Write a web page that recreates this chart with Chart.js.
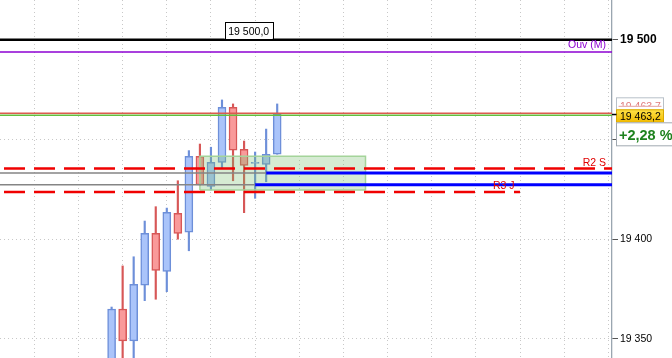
<!DOCTYPE html>
<html>
<head>
<meta charset="utf-8">
<script src="https://cdn.jsdelivr.net/npm/chart.js@4/dist/chart.umd.min.js"></script>
<style>
  html, body { margin: 0; padding: 0; background: #fff; }
  canvas { display: block; }
</style>
</head>
<body>
<canvas id="chart" width="672" height="358"></canvas>
<script>
// candles, index 0 = first visible candle
const opens  = [19330.0, 19365.0, 19349.0, 19376.9, 19402.9, 19383.9, 19413.0, 19403.5, 19441.6, 19426.5, 19438.5, 19466.1, 19445.1, 19438.0, 19437.5, 19442.6];
const highs  = [19366.0, 19386.6, 19391.2, 19409.1, 19416.3, 19415.6, 19429.3, 19444.4, 19447.7, 19446.1, 19469.8, 19467.8, 19449.2, 19443.7, 19455.2, 19467.8];
const lows   = [19325.0, 19330.0, 19335.0, 19369.2, 19369.9, 19373.7, 19400.0, 19394.2, 19427.0, 19424.7, 19435.8, 19429.3, 19413.3, 19420.5, 19428.8, 19442.6];
const closes = [19365.0, 19349.0, 19377.4, 19402.9, 19384.4, 19413.5, 19402.9, 19441.6, 19427.2, 19438.5, 19466.1, 19444.6, 19437.0, 19438.5, 19442.6, 19462.6];

// horizontal levels
const levelValues = [19500.0, 19493.8, 19463.1, 19462.1, 19435.4, 19423.7];
const levelLabels = ['19 500,0', 'Ouv (M)', '', '', 'R2 S', 'R3 J'];
const levelEnds   = [null, null, null, null, null, 37];   // candle index where a line stops
const pivotValues = [19433.2, 19427.3];                    // grey, then blue
const pivotSwitch = [14, 13];
const zoneValues  = [19424.6, 19441.6];
const zoneSpan    = [8, 23];

// axes
const yTicks = [19350, 19400, 19450, 19500];
const xGrid  = [-7, -3, 1, 5, 9, 13, 17, 21, 25, 29, 33, 37, 41, 45];
const tagTexts = ['19 463,7', '19 463,2', '+2,28 %'];

const X_MIN = -10.11, X_MAX = 45.33;
const Y_MIN = 19340.45, Y_MAX = 19519.9;

// styles (kept apart from the data)
const levelStyle = [
  {color: '#000000', width: 2.5, dash: []},
  {color: '#8c00d2', width: 1.5, dash: []},
  {color: '#dc5a50', width: 1.5, dash: []},
  {color: '#64be3c', width: 1.5, dash: []},
  {color: '#f00000', width: 2.5, dash: [21, 9]},
  {color: '#f00000', width: 2.5, dash: [21, 9]},
];
const UP_FILL = '#aac4fa', UP_LINE = '#6d8fd9';
const DN_FILL = '#f99a9a', DN_LINE = '#d75757';

const idx = closes.map((_, i) => i);
const isUp = idx.map(i => closes[i] >= opens[i]);

const datasets = [];

// level lines
levelValues.forEach((v, i) => {
  const end = levelEnds[i] == null ? X_MAX : levelEnds[i];
  datasets.push({
    type: 'line',
    data: [{x: X_MIN, y: v}, {x: end, y: v}],
    borderColor: levelStyle[i].color,
    borderWidth: levelStyle[i].width,
    borderDash: levelStyle[i].dash,
    borderDashOffset: 26,
    pointRadius: 0,
    fill: false,
    order: i === 0 ? 0 : 2
  });
});

// pivot lines: grey up to the switch candle, blue after it
pivotValues.forEach((v, i) => {
  datasets.push({
    type: 'line',
    data: [{x: X_MIN, y: v}, {x: pivotSwitch[i], y: v}],
    borderColor: '#858585', borderWidth: 1.5,
    pointRadius: 0, fill: false, order: 3
  });
  datasets.push({
    type: 'line',
    data: [{x: pivotSwitch[i], y: v}, {x: X_MAX, y: v}],
    borderColor: '#0000ff', borderWidth: 3,
    pointRadius: 0, fill: false, order: 3
  });
});

// green zone
datasets.push({
  type: 'line',
  data: [
    {x: zoneSpan[0], y: zoneValues[0]}, {x: zoneSpan[0], y: zoneValues[1]},
    {x: zoneSpan[1], y: zoneValues[1]}, {x: zoneSpan[1], y: zoneValues[0]},
    {x: zoneSpan[0], y: zoneValues[0]}
  ],
  borderColor: '#a4d49a', borderWidth: 1.5,
  backgroundColor: 'rgba(120,190,110,0.3)',
  fill: 'shape', pointRadius: 0, order: 5
});

// candle bodies
datasets.push({
  type: 'bar',
  data: idx.map(i => ({x: i, y: [opens[i], closes[i]]})),
  backgroundColor: idx.map(i => isUp[i] ? UP_FILL : DN_FILL),
  borderColor: idx.map(i => isUp[i] ? UP_LINE : DN_LINE),
  borderWidth: 1.5,
  borderSkipped: false,
  barThickness: 8,
  grouped: false,
  order: 8
});

// wicks
datasets.push({
  type: 'bar',
  data: idx.map(i => ({x: i, y: [lows[i], highs[i]]})),
  backgroundColor: idx.map(i => isUp[i] ? UP_LINE : DN_LINE),
  borderWidth: 0,
  barThickness: 1.5,
  grouped: false,
  order: 9
});

function fmt(v) {
  return String(Math.round(v)).replace(/\B(?=(\d{3})+(?!\d))/g, ' ');
}

const overlay = {
  id: 'overlay',
  afterDraw(chart) {
    const {ctx, chartArea: area, scales: {x, y}} = chart;
    ctx.save();
    ctx.font = '10.5px "Liberation Sans"';
    ctx.textBaseline = 'alphabetic';

    // "19 500,0" box on the black line
    const y0 = Math.round(y.getPixelForValue(levelValues[0]));
    const cx = x.getPixelForValue(12.42);
    ctx.fillStyle = '#fff';
    ctx.fillRect(cx - 24, y0 - 18, 48, 17);
    ctx.strokeStyle = '#000';
    ctx.lineWidth = 1;
    ctx.strokeRect(Math.round(cx - 24) + 0.5, y0 - 17.5, 48, 17);
    ctx.fillStyle = '#000';
    ctx.textAlign = 'center';
    ctx.fillText(levelLabels[0], cx, y0 - 5.5);

    // level names
    ctx.textAlign = 'right';
    ctx.fillStyle = levelStyle[1].color;
    ctx.fillText(levelLabels[1], area.right - 6, y.getPixelForValue(levelValues[1]) - 4);
    ctx.fillStyle = '#e00000';
    ctx.fillText(levelLabels[4], area.right - 6, y.getPixelForValue(levelValues[4]) - 3);
    ctx.textAlign = 'left';
    ctx.fillText(levelLabels[5], x.getPixelForValue(34.55), y.getPixelForValue(levelValues[5]) - 3);

    // price tags in the axis
    const yl = y.getPixelForValue(levelValues[3]);
    const left = area.right + 4.5;
    // half-hidden tag of the red line
    ctx.fillStyle = '#fff';
    ctx.fillRect(left, yl - 18, 47, 16);
    ctx.save();
    ctx.beginPath();
    ctx.rect(left, yl - 18, 47, 8.5);
    ctx.clip();
    ctx.fillStyle = '#e07a7a';
    ctx.fillText(tagTexts[0], left + 3.5, yl - 5);
    ctx.restore();
    ctx.strokeStyle = '#b8c0c8';
    ctx.strokeRect(left, yl - 17.5, 47, 16);
    ctx.strokeStyle = '#e3a0a0';
    ctx.beginPath();
    ctx.moveTo(left + 2, yl - 9);
    ctx.lineTo(left + 45, yl - 9);
    ctx.stroke();

    const g = ctx.createLinearGradient(0, yl - 6, 0, yl + 7);
    g.addColorStop(0, '#ffe34a');
    g.addColorStop(1, '#f2bb00');
    ctx.fillStyle = g;
    ctx.fillRect(left, yl - 6, 47, 13);
    ctx.strokeStyle = '#d9a800';
    ctx.strokeRect(left, yl - 5.5, 47, 12.5);
    ctx.fillStyle = '#000';
    ctx.fillText(tagTexts[1], left + 3.5, yl + 4.8);
    ctx.strokeStyle = '#000';
    ctx.lineWidth = 1.5;
    ctx.beginPath();
    ctx.moveTo(area.right, yl - 0.8);
    ctx.lineTo(left, yl - 0.8);
    ctx.stroke();

    ctx.lineWidth = 1;
    ctx.fillStyle = '#fff';
    ctx.fillRect(left, yl + 7, 80, 23);
    ctx.strokeStyle = '#a0a8b0';
    ctx.strokeRect(left, yl + 7.5, 80, 23);
    ctx.fillStyle = '#1e821e';
    ctx.font = 'bold 14.5px "Liberation Sans"';
    ctx.fillText(tagTexts[2], left + 2.5, yl + 24.5);
    ctx.restore();
  }
};

Chart.defaults.font.family = '"Liberation Sans", Arial, sans-serif';

new Chart(document.getElementById('chart'), {
  type: 'bar',
  data: {datasets},
  options: {
    responsive: false,
    animation: false,
    devicePixelRatio: 1,
    layout: {padding: 0},
    plugins: {legend: {display: false}, tooltip: {enabled: false}},
    scales: {
      x: {
        type: 'linear',
        offset: false,
        min: X_MIN, max: X_MAX,
        ticks: {display: false},
        grid: {color: '#c8c8c8', drawTicks: false, offset: false},
        border: {display: false, dash: [1, 3]},
        afterBuildTicks: s => { s.ticks = xGrid.map(v => ({value: v})); },
        afterFit: s => { s.height = 0; s.paddingLeft = 0; s.paddingRight = 0; }
      },
      y: {
        type: 'linear',
        position: 'right',
        min: Y_MIN, max: Y_MAX,
        ticks: {
          color: '#000',
          padding: 2,
          font: c => (c.tick && c.tick.value === 19500) ? {size: 12, weight: 'bold'} : {size: 10.5},
          callback: v => fmt(v)
        },
        grid: {color: '#c8c8c8', tickLength: 6, tickColor: '#555', tickBorderDash: []},
        border: {color: '#9aa6b0', width: 1.3, dash: [1, 3]},
        afterBuildTicks: s => { s.ticks = yTicks.map(v => ({value: v})); },
        afterFit: s => { s.width = 60; s.paddingTop = 0; s.paddingBottom = 0; }
      }
    }
  },
  plugins: [overlay]
});
</script>
</body>
</html>
